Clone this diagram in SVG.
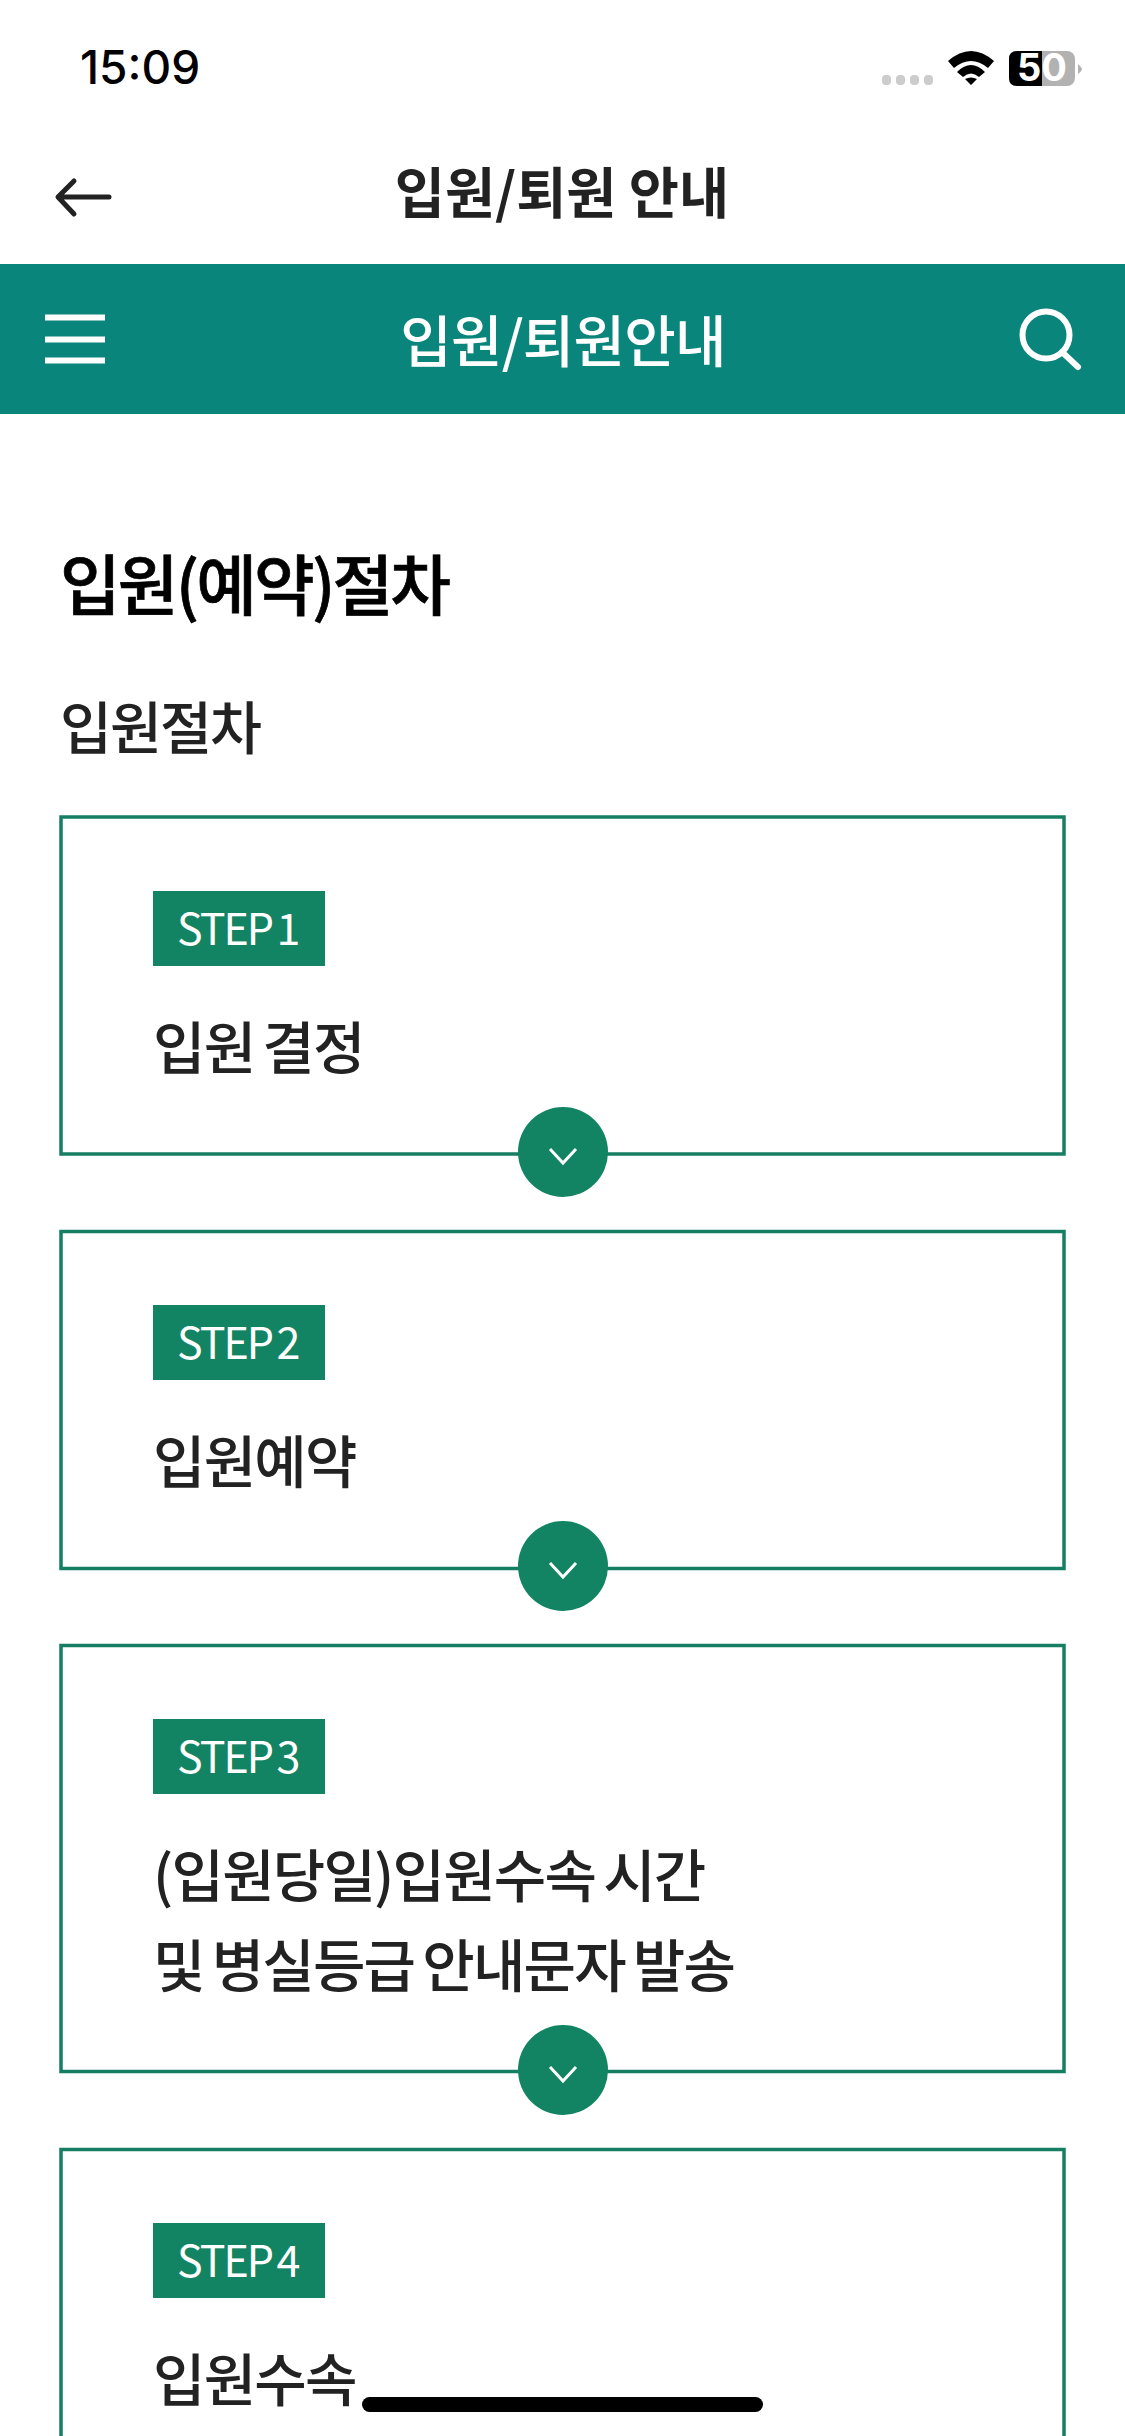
<svg xmlns="http://www.w3.org/2000/svg" width="1125" height="2436" viewBox="0 0 1125 2436">
<style>
text{font-family:"Noto Sans CJK KR","Noto Sans",sans-serif}
.box{fill:#fff;stroke:#167f63;stroke-width:3.5}
.tag{fill:#138463}
.tagt{fill:#fff;font-size:43px;letter-spacing:-2px;word-spacing:-3px}
.body{fill:#222;font-size:57px;font-weight:500;letter-spacing:-1.8px;word-spacing:-3px}
.dot{fill:#138463}
.chev{fill:none;stroke:#fff;stroke-width:3}
</style>
<rect width="1125" height="2436" fill="#fff"/>
<g id="status-bar">
<text x="80" y="84" font-size="46" font-weight="500" fill="#000" style="font-family:'Inter','Liberation Sans',sans-serif">15:09</text>
<g fill="#ccc"><rect x="882" y="75" width="9" height="10" rx="4"/><rect x="896" y="75" width="9" height="10" rx="4"/><rect x="910" y="75" width="9" height="10" rx="4"/><rect x="924" y="75" width="9" height="10" rx="4"/></g>
<path d="M948 61Q971 41 994 61L988 68Q971 54 954 68ZM957 72Q971 58 985 72L979 77Q971 70 963 77ZM965 79Q971 76 977 79L971 85Z" fill="#000"/>
<rect x="1009" y="51" width="66" height="35" rx="8" fill="#b2b2b2"/>
<path d="M1017 51H1042V86H1017Q1009 86 1009 78V59Q1009 51 1017 51Z" fill="#000"/>
<path d="M1078 64Q1082 68 1082 69Q1082 71 1078 74Z" fill="#b2b2b2"/>
<text x="1042" y="81" text-anchor="middle" font-size="38" font-weight="700" fill="#fff" style="font-family:'Inter','Liberation Sans',sans-serif">50</text>
</g>
<g id="nav-bar">
<path d="M109 197H59M74 181L58 197L74 214" fill="none" stroke="#222" stroke-width="5" stroke-linecap="round" stroke-linejoin="round"/>
<text x="562" y="213" text-anchor="middle" font-size="54.5" font-weight="700" fill="#222">입원/퇴원 안내</text>
</g>
<g id="app-header">
<rect y="264" width="1125" height="150" fill="#0a857b"/>
<path d="M45 317.5H105M45 339.5H105M45 360.5H105" stroke="#fff" stroke-width="6" fill="none"/>
<text x="563" y="362" text-anchor="middle" font-size="56" font-weight="500" fill="#fff" letter-spacing="-0.8">입원/퇴원안내</text>
<circle cx="1046" cy="335" r="23.5" fill="none" stroke="#fff" stroke-width="6"/>
<path d="M1062 352L1078 367" stroke="#fff" stroke-width="6" stroke-linecap="round"/>
</g>
<g id="headings">
<text x="60" y="610" font-size="66" font-weight="500" fill="#000" stroke="#000" stroke-width="0.7" letter-spacing="-2.9">입원(예약)절차</text>
<text x="60" y="749" font-size="56.5" font-weight="500" fill="#222" letter-spacing="-2">입원절차</text>
</g>
<g id="step1">
<rect class="box" x="61" y="817" width="1003" height="337"/>
<rect class="tag" x="153" y="891" width="172" height="75"/>
<text class="tagt" x="177" y="945">STEP 1</text>
<text class="body" x="153" y="1069">입원 결정</text>
</g>
<g id="step2">
<rect class="box" x="61" y="1231.5" width="1003" height="337"/>
<rect class="tag" x="153" y="1305" width="172" height="75"/>
<text class="tagt" x="177" y="1359">STEP 2</text>
<text class="body" x="153" y="1483">입원예약</text>
</g>
<g id="step3">
<rect class="box" x="61" y="1645.5" width="1003" height="426"/>
<rect class="tag" x="153" y="1719" width="172" height="75"/>
<text class="tagt" x="177" y="1773">STEP 3</text>
<text class="body" x="153" y="1897">(입원당일)입원수속 시간</text>
<text class="body" x="153" y="1987">및 병실등급 안내문자 발송</text>
</g>
<g id="step4">
<rect class="box" x="61" y="2149.5" width="1003" height="340"/>
<rect class="tag" x="153" y="2223" width="172" height="75"/>
<text class="tagt" x="177" y="2277">STEP 4</text>
<text class="body" x="153" y="2401">입원수속</text>
</g>
<g id="connectors">
<g><circle class="dot" cx="563" cy="1152" r="45"/><path class="chev" d="M550 1149L563 1163L576 1149"/></g>
<g><circle class="dot" cx="563" cy="1566" r="45"/><path class="chev" d="M550 1563L563 1577L576 1563"/></g>
<g><circle class="dot" cx="563" cy="2070" r="45"/><path class="chev" d="M550 2067L563 2081L576 2067"/></g>
</g>
<rect id="home-indicator" x="362" y="2397" width="401" height="15" rx="7.5" fill="#000"/>
</svg>
